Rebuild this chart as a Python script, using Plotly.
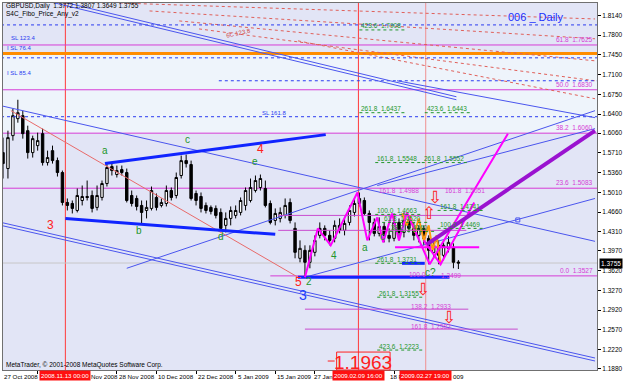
import plotly.graph_objects as go

# ------------------------------------------------------------------ data
date_labels = ["27 Oct 2008", "6 Nov 2008", "18 Nov 2008", "28 Nov 2008", "10 Dec 2008",
               "22 Dec 2008", "5 Jan 2009", "15 Jan 2009", "27 Jan 2009", "6 Feb 2009",
               "18 Feb 2009", "2 Mar 2009"]
date_label_bars = [0, 8, 16, 24, 32, 40, 48, 56, 64, 72, 80, 88]
price_ticks = [1.8140, 1.7800, 1.7450, 1.7100, 1.6750, 1.6400, 1.6060, 1.5710, 1.5360,
               1.5010, 1.4660, 1.4310, 1.3970, 1.3620, 1.3270, 1.2920, 1.2570, 1.2220, 1.1880]

bars = list(range(1, 94))
opens = [1.5715, 1.5432, 1.6016, 1.6317, 1.6370, 1.6104, 1.5715, 1.5839, 1.6051, 1.5538,
         1.5750, 1.5573, 1.5361, 1.4830, 1.4812, 1.4688, 1.4865, 1.4936, 1.4954, 1.4742,
         1.4919, 1.5166, 1.5467, 1.5326, 1.5414, 1.5361, 1.4954, 1.4901, 1.4777, 1.4688,
         1.4724, 1.4919, 1.4777, 1.4812, 1.5042, 1.4954, 1.5308, 1.5573, 1.5503, 1.4989,
         1.4936, 1.4777, 1.4742, 1.4724, 1.4653, 1.4423, 1.4547, 1.4600, 1.4653, 1.4777,
         1.4865, 1.5042, 1.5096, 1.5078, 1.4812, 1.4511, 1.4547, 1.4600, 1.4830, 1.4370,
         1.3839, 1.3980, 1.3768, 1.3945, 1.4246, 1.4370, 1.4246, 1.4193, 1.4423, 1.4335,
         1.4476, 1.4653, 1.4812, 1.4865, 1.4635, 1.4476, 1.4281, 1.4405, 1.4246, 1.4193,
         1.4476, 1.4299, 1.4511, 1.4370, 1.4246, 1.4370, 1.4193, 1.3945, 1.4069, 1.3892,
         1.4016, 1.4034, 1.3772]
highs = [1.5981, 1.6104, 1.6494, 1.6653, 1.6459, 1.6193, 1.6016, 1.6069, 1.6140, 1.5750,
         1.5839, 1.5627, 1.5396, 1.4901, 1.4865, 1.5078, 1.5131, 1.5219, 1.5042, 1.5131,
         1.5219, 1.5538, 1.5520, 1.5485, 1.5485, 1.5432, 1.5042, 1.4954, 1.4865, 1.4865,
         1.5113, 1.4989, 1.4901, 1.5131, 1.5096, 1.5361, 1.5662, 1.5680, 1.5573, 1.5042,
         1.5007, 1.4830, 1.4777, 1.4777, 1.4724, 1.4653, 1.4759, 1.4777, 1.4919, 1.5096,
         1.5255, 1.5308, 1.5326, 1.5219, 1.4865, 1.4724, 1.4742, 1.4901, 1.4901, 1.4476,
         1.4157, 1.4069, 1.4069, 1.4246, 1.4476, 1.4423, 1.4335, 1.4511, 1.4547, 1.4547,
         1.4777, 1.4901, 1.5007, 1.4919, 1.4688, 1.4547, 1.4565, 1.4476, 1.4370, 1.4635,
         1.4547, 1.4653, 1.4600, 1.4476, 1.4423, 1.4423, 1.4246, 1.4157, 1.4157, 1.4122,
         1.4228, 1.4104, 1.3807]
lows = [1.5255, 1.5255, 1.5928, 1.6246, 1.5963, 1.5609, 1.5627, 1.5750, 1.5485, 1.5485,
        1.5520, 1.5290, 1.4777, 1.4688, 1.4635, 1.4653, 1.4777, 1.4865, 1.4653, 1.4688,
        1.4865, 1.5113, 1.5308, 1.5273, 1.5308, 1.4830, 1.4759, 1.4688, 1.4458, 1.4547,
        1.4688, 1.4688, 1.4742, 1.4759, 1.4865, 1.4901, 1.5255, 1.5450, 1.4865, 1.4777,
        1.4653, 1.4635, 1.4618, 1.4547, 1.4335, 1.4299, 1.4423, 1.4547, 1.4600, 1.4688,
        1.4830, 1.5007, 1.5042, 1.4742, 1.4441, 1.4423, 1.4476, 1.4547, 1.4458, 1.3839,
        1.3768, 1.3503, 1.3662, 1.3874, 1.4193, 1.4157, 1.4069, 1.4122, 1.4281, 1.4246,
        1.4423, 1.4582, 1.4759, 1.4600, 1.4157, 1.4228, 1.4228, 1.4122, 1.4122, 1.4140,
        1.4157, 1.4210, 1.4299, 1.4157, 1.4122, 1.4069, 1.3733, 1.3839, 1.3733, 1.3803,
        1.3945, 1.3662, 1.3649]
closes = [1.5520, 1.5981, 1.6370, 1.6423, 1.6051, 1.5715, 1.5963, 1.5928, 1.5538, 1.5627,
          1.5573, 1.5361, 1.4830, 1.4777, 1.4724, 1.4954, 1.4936, 1.4919, 1.4724, 1.4954,
          1.5166, 1.5450, 1.5396, 1.5396, 1.5361, 1.4865, 1.4812, 1.4759, 1.4653, 1.4742,
          1.5042, 1.4742, 1.4830, 1.5042, 1.4919, 1.5273, 1.5573, 1.5520, 1.4901, 1.4865,
          1.4724, 1.4688, 1.4671, 1.4600, 1.4370, 1.4547, 1.4688, 1.4688, 1.4865, 1.5042,
          1.5096, 1.5219, 1.5255, 1.4777, 1.4476, 1.4635, 1.4653, 1.4777, 1.4511, 1.3945,
          1.4016, 1.3768, 1.3980, 1.4157, 1.4370, 1.4246, 1.4157, 1.4423, 1.4335, 1.4458,
          1.4688, 1.4812, 1.4901, 1.4635, 1.4476, 1.4281, 1.4405, 1.4246, 1.4193, 1.4476,
          1.4299, 1.4511, 1.4370, 1.4246, 1.4370, 1.4193, 1.3980, 1.4069, 1.3892, 1.4069,
          1.4122, 1.3768, 1.3755]
last_price = 1.3755

# drawing objects (bar, price)
zigzag_bars = [62, 64.6, 67.2, 72.6, 74.6, 76.6, 77.8, 79.6, 81, 82.6, 87.2, 103]
zigzag_prices = [1.3503, 1.4370, 1.4069, 1.5007, 1.4157, 1.4565, 1.4122, 1.4635, 1.4157,
                 1.4653, 1.3733, 1.6051]
zigzag2_bars = [86, 89.4, 96.2]
zigzag2_prices = [1.4157, 1.3733, 1.4830]
orange_bars = [81.6, 82.6, 83.2, 84.2, 85, 86, 87, 87.8, 88.6, 89.4]
orange_prices = [1.4635, 1.4423, 1.4600, 1.4299, 1.4547, 1.4157, 1.4423, 1.3980, 1.4246, 1.3733]

thin_blue_lines = [([0.6, 120.6], [1.6547, 1.4140]),
                   ([0.6, 120.6], [1.4476, 1.2069]),
                   ([0.6, 120.6], [1.4423, 1.2016]),
                   ([0.6, 92.6], [1.8654, 1.6706]),
                   ([0.6, 92.6], [1.8601, 1.6653]),
                   ([80.6, 120.6], [1.6990, 1.6335]),
                   ([26, 120.6], [1.3662, 1.6459]),
                   ([76.6, 120.6], [1.5131, 1.6140]),
                   ([62, 120.6], [1.3503, 1.4901])]
thick_blue_lines = [([21.6, 66.2], [1.5520, 1.6034]),
                    ([13.6, 56], [1.4547, 1.4264]),
                    ([60.6, 91.2], [1.3503, 1.3503]),
                    ([81.6, 86.2], [1.3750, 1.3750])]
red_trend = ([2.6, 60.6], [1.6459, 1.3503])
purple_trend = ([86.6, 120.6], [1.4087, 1.6105])
red_fan = [([24.6, 120.6], [1.8370, 1.8087]),
           ([30.6, 120.6], [1.8229, 1.7735]),
           ([36.6, 120.6], [1.8052, 1.7344]),
           ([40.6, 120.6], [1.7910, 1.6990]),
           ([60.6, 120.6], [1.7698, 1.6671])]
magenta_hline = ([80.2, 97.2], 1.4034)
channel_marker = (105, 1.4520)

orange_level = 1.7473
fib_levels = [1.7625, 1.6830, 1.6060, 1.5083, 1.3527]
fib_texts = ["61.8  1.7625", "50.0  1.6830", "38.2  1.6060", "23.6  1.5083", "0.0  1.3527"]
ext_levels = [1.2936, 1.2582, 1.4600, 1.4335]
ext_spans = [(62, 95), (62, 105), (56.6, 94.6), (56.6, 94.6)]
blue_dot_levels = [1.7981, 1.7397, 1.6990, 1.6352]
blue_dot_starts = [0.6, 0.6, 44.6, 0.6]
event_bars = [13.6, 72.8, 86.4]
event_texts = ["2008.11.13 00:00", "2009.02.09 16:00", "2009.02.27 19:00"]


# ------------------------------------------------------------------ geometry helpers
W, H = 625, 381
ML, MR, MT, MB = 2, 23, 2, 11


def X(px):
    return (px + 3) / 5.0


def P(py):
    return 1.84055 - 0.00177 * py


def xp(px):
    return (px - ML) / (W - ML - MR)


def yp(py):
    return 1 - (py - MT) / (H - MT - MB)


FONT = "Liberation Sans"
BLUE = "#2b3cf0"
GREEN = "#22962a"
MAG = "#d63cd6"

fig = go.Figure()

fig.add_trace(go.Candlestick(
    x=bars, open=opens, high=highs, low=lows, close=closes,
    increasing=dict(line=dict(color="black", width=1), fillcolor="white"),
    decreasing=dict(line=dict(color="black", width=1), fillcolor="black"),
    whiskerwidth=0, showlegend=False, hoverinfo="skip"))


def line(xs, ys, color, width=1, dash="solid"):
    fig.add_trace(go.Scatter(x=xs, y=ys, mode="lines", showlegend=False, hoverinfo="skip",
                             line=dict(color=color, width=width, dash=dash)))


for xs, ys in red_fan:
    line(xs, ys, "#e0605a", 1, "dot")
for lvl, st in zip(blue_dot_levels, blue_dot_starts):
    line([st, 121], [lvl, lvl], BLUE, 1, "dot")
for xs, ys in thin_blue_lines:
    line(xs, ys, "#4a55ee", 1)
line(red_trend[0], red_trend[1], "#e86a6a", 1)
for lvl, (a, b) in zip(ext_levels, ext_spans):
    line([a, b], [lvl, lvl], "#c84ccf", 1)
for xs, ys in thick_blue_lines:
    line(xs, ys, "#1024ff", 3)
line(magenta_hline[0], [magenta_hline[1]] * 2, "#ff00ff", 2)
line(orange_bars, orange_prices, "#ff9a10", 2)
line(zigzag_bars, zigzag_prices, "#ff00ff", 2)
line(zigzag2_bars, zigzag2_prices, "#ff00ff", 2)
line(purple_trend[0], purple_trend[1], "#9a12d0", 4)
fig.add_trace(go.Scatter(x=[channel_marker[0]], y=[channel_marker[1]], mode="markers",
                         marker=dict(symbol="square-open", size=4, color="#4a55ee"),
                         showlegend=False, hoverinfo="skip"))

shapes = []
# lighter band
shapes.append(dict(type="rect", xref="paper", x0=0, x1=1, yref="y", y0=fib_levels[2],
                   y1=orange_level, fillcolor="#eef4fb", line=dict(width=0), layer="below"))
for b, c in zip(event_bars, ["#ff3a3a", "#ff3a3a", "#f09090"]):
    shapes.append(dict(type="line", xref="x", x0=b, x1=b, yref="paper", y0=0, y1=1,
                       line=dict(color=c, width=1), layer="below"))
shapes.append(dict(type="line", xref="paper", x0=0, x1=1, yref="y", y0=orange_level,
                   y1=orange_level, line=dict(color="#ff8c00", width=3), layer="below"))
for i, lvl in enumerate(fib_levels):
    x0 = 0 if i < 4 else (55 - X(2)) / (X(602) - X(2))
    shapes.append(dict(type="line", xref="paper", x0=x0, x1=1, yref="y", y0=lvl, y1=lvl,
                       line=dict(color=MAG, width=1), layer="below"))
shapes.append(dict(type="line", xref="paper", x0=0, x1=1, yref="y", y0=last_price,
                   y1=last_price, line=dict(color="#c8c8c8", width=1), layer="below"))
# 1.1963 box
shapes.append(dict(type="rect", xref="paper", yref="paper", x0=xp(339), x1=xp(393),
                   y0=yp(370), y1=yp(352), line=dict(color="#ff2020", width=1)))
shapes.append(dict(type="line", xref="paper", yref="paper", x0=xp(330), x1=xp(337),
                   y0=yp(361), y1=yp(361), line=dict(color="#ff2020", width=1)))

ann = []


def txt(px, py, s, color="black", size=7, xanchor="left", family=FONT, **kw):
    ann.append(dict(xref="paper", yref="paper", x=xp(px), y=yp(py), text=s, showarrow=False,
                    xanchor=xanchor, yanchor="middle", font=dict(family=family, size=size, color=color),
                    **kw))


# header / footer
txt(3, 5, "GBPUSD,Daily  1.3772 1.3807 1.3649 1.3755", "black", 6.5)
txt(3, 13, "S4C_Fibo_Price_Any_v2", "black", 6.5)
txt(3, 365, "MetaTrader, © 2001-2008 MetaQuotes Software Corp.", "black", 6.5)
txt(540, 16, "006 _ Daily", "#2030ff", 11, "center")

# fib labels
for lvl, s in zip(fib_levels, fib_texts):
    ann.append(dict(xref="paper", yref="y", x=1.0 - 2 / 600, y=lvl, text=s, showarrow=False,
                    xanchor="right", yanchor="bottom", font=dict(family=FONT, size=6.5, color=MAG)))
txt(412, 306, "138.2  1.2933", MAG, 6.5)
txt(412, 326, "161.8  1.2582", MAG, 6.5)
txt(410, 274, "100.0", MAG, 6.5)
txt(442, 275, "1.3499", MAG, 6.5)
txt(380, 190, "161.8  1.4988", MAG, 6.5)
txt(446, 190, "161.8  1.5051", MAG, 6.5)

greens = [(362, 25, "423.6  1.7908"), (362, 108, "261.8  1.6437"), (428, 108, "423.6  1.6443"),
          (378, 158, "161.8  1.5548"), (425, 158, "261.8  1.5552"), (378, 210, "100.0  1.4663"),
          (441, 206, "161.8  1.4741"), (385, 218, "61.8  1.4520"), (441, 224, "100.0  1.4469"),
          (392, 227, "38.2  1.4360"), (378, 259, "261.8  1.3731"), (380, 293, "261.8  1.3155"),
          (380, 346, "423.6  1.2223")]
for px, py, s in greens:
    txt(px, py, s, GREEN, 6.5)
    fig.add_trace(go.Scatter(x=[X(px), X(px + 48)], y=[P(py + 4)] * 2, mode="lines",
                             line=dict(color=GREEN, width=1, dash="dot"), showlegend=False,
                             hoverinfo="skip"))

# SL labels
txt(8, 37, "SL 123.4", BLUE, 6)
txt(4, 47, "I SL 76.4", BLUE, 6)
txt(4, 72, "I SL 85.4", BLUE, 6)
txt(262, 112, "SL 161.8", BLUE, 6)
txt(225, 32, "6C 123.8", "#d04040", 6, textangle=-12)

# wave labels
for px, py, s in [(105, 150, "a"), (139, 230, "b"), (188, 139, "c"), (222, 236, "d"),
                  (257, 161, "e"), (336, 255, "4"), (368, 247, "a"), (385, 236, "c"),
                  (434, 272, "c?"), (311, 281, "2")]:
    txt(px, py, s, GREEN, 10, "center")
for px, py, s in [(50, 225, "3"), (262, 148, "4"), (300, 282, "5")]:
    txt(px, py, s, "#ff2020", 12, "center")
txt(305, 295, "3", "#2040ff", 14, "center")

# red arrows
for px, py, s in [(438, 197, "⇩"), (432, 213, "⇧"), (426, 289, "⇩"), (453, 317, "⇩")]:
    txt(px, py, s, "#ff2020", 17, "center", family="DejaVu Sans")

# big red price
txt(366, 362, "1.1963", "#ff2020", 19, "center")

# x axis labels: the parts left visible around the red time boxes
visible_part = {"6 Nov 2008": "", "6 Feb 2009": "", "18 Nov 2008": "Nov 2008",
                "27 Jan 2009": "27 Jan 2", "18 Feb 2009": "18 F", "2 Mar 2009": "009"}
visible_px = {"18 Nov 2008": 89, "27 Jan 2009": 314, "18 Feb 2009": 391, "2 Mar 2009": 455}
for b, s in zip(date_label_bars, date_labels):
    shown = visible_part.get(s, s)
    if not shown:
        continue
    px = visible_px.get(s, max(1, 5 * b - 3))
    txt(px, 377, shown, "black", 6.2)
for b, s in zip(event_bars, event_texts):
    ann.append(dict(xref="x", yref="paper", x=b, y=yp(376), text=s, showarrow=False,
                    xanchor="center", yanchor="middle", bgcolor="#ff1010", borderpad=1,
                    font=dict(family=FONT, size=6.2, color="white")))
# current price label
ann.append(dict(xref="paper", yref="y", x=1.0, y=last_price, text="1.3755", showarrow=False,
                xanchor="left", yanchor="middle", bgcolor="black", borderpad=1, xshift=2,
                font=dict(family=FONT, size=6.5, color="white")))

fig.update_layout(
    width=W, height=H, margin=dict(l=ML, r=MR, t=MT, b=MB),
    paper_bgcolor="white", plot_bgcolor="#e2e5f6",
    shapes=shapes, annotations=ann, showlegend=False,
    xaxis=dict(range=[X(2), X(602)], rangeslider=dict(visible=False), showgrid=False,
               zeroline=False, tickvals=date_label_bars[1:], ticks="outside", ticklen=3,
               tickcolor="black", showticklabels=False, showline=True, linecolor="#707070",
               mirror=True),
    yaxis=dict(range=[P(370), P(2)], side="right", showgrid=False, zeroline=False,
               tickvals=price_ticks, ticktext=["%.4f" % v for v in price_ticks],
               ticks="outside", ticklen=3, tickcolor="black",
               tickfont=dict(family=FONT, size=6.5, color="black"),
               showline=True, linecolor="#707070", mirror=True),
)

fig.write_html("out.html", config={"displayModeBar": False})
